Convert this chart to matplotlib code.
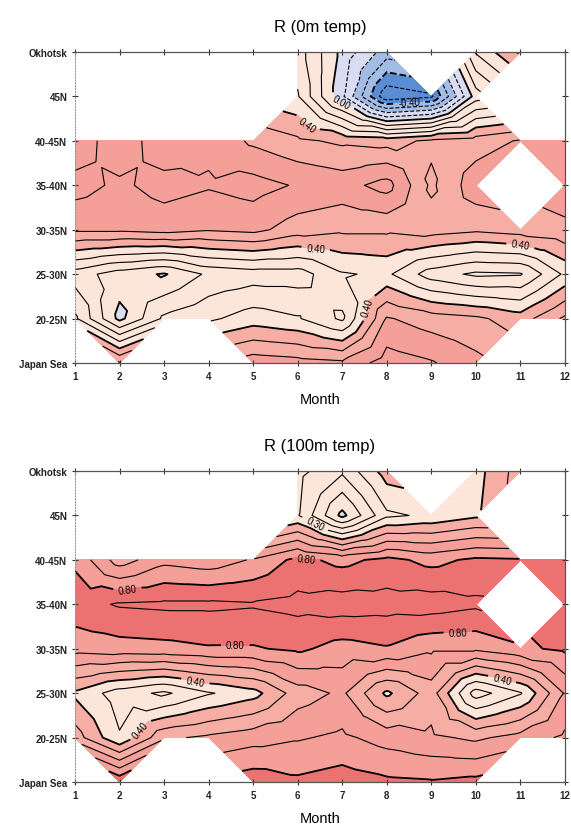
import numpy as np
import matplotlib
matplotlib.use("Agg")
import matplotlib.pyplot as plt
import matplotlib.tri as mtri

nan = np.nan
months = list(range(1, 13))
regions = ["Japan Sea", "20-25N", "25-30N", "30-35N", "35-40N", "40-45N", "45N", "Okhotsk"]

# correlation R, rows from Japan Sea (bottom) to Okhotsk (top)
r_0m = [
    [nan, 0.61, nan, nan, 0.66, 0.64, 0.62, 0.75, 0.71, 0.63, nan, nan],
    [0.32, -0.03, 0.22, 0.28, 0.35, 0.31, 0.18, 0.61, 0.55, 0.52, 0.45, 0.62],
    [0.15, 0.05, -0.01, 0.12, 0.15, 0.15, 0.29, 0.32, 0.15, 0.08, 0.09, 0.32],
    [0.62, 0.62, 0.64, 0.61, 0.63, 0.55, 0.52, 0.52, 0.55, 0.52, 0.55, 0.58],
    [0.74, 0.68, 0.74, 0.71, 0.74, 0.69, 0.66, 0.74, 0.48, 0.66, nan, 0.65],
    [0.62, 0.78, 0.62, 0.68, 0.58, 0.52, 0.48, 0.46, 0.52, 0.55, 0.61, 0.61],
    [nan, nan, nan, nan, nan, 0.31, -0.08, -0.58, -0.52, 0.05, nan, nan],
    [nan, nan, nan, nan, nan, 0.25, -0.03, -0.25, nan, 0.31, 0.52, nan],
]

r_100m = [
    [nan, 0.88, nan, nan, 0.86, 0.82, 0.85, 0.82, 0.81, 0.83, nan, nan],
    [0.55, 0.31, 0.58, 0.62, 0.66, 0.69, 0.72, 0.66, 0.62, 0.58, 0.64, 0.72],
    [0.38, 0.25, 0.18, 0.29, 0.36, 0.55, 0.62, 0.38, 0.55, 0.15, 0.29, 0.61],
    [0.74, 0.76, 0.77, 0.79, 0.79, 0.82, 0.76, 0.79, 0.72, 0.72, 0.78, 0.82],
    [0.86, 0.91, 0.92, 0.92, 0.91, 0.93, 0.95, 0.94, 0.95, 0.92, nan, 0.86],
    [0.78, 0.55, 0.67, 0.64, 0.71, 0.83, 0.77, 0.83, 0.77, 0.82, 0.81, 0.82],
    [nan, nan, nan, nan, nan, 0.31, -0.03, 0.28, 0.32, 0.38, nan, nan],
    [nan, nan, nan, nan, nan, 0.33, 0.22, 0.45, nan, 0.36, 0.55, nan],
]

# contour labels: levels that get one, and where they sit (month, row)
label_lev_0m = [-0.4, 0.0, 0.4]
labels_0m = [(7.0, 5.93), (8.5, 5.93), (6.2, 5.35), (6.4, 2.53), (11.0, 2.65), (7.6, 1.25)]
label_lev_100m = [0.3, 0.4, 0.6, 0.8]
labels_100m = [(6.4, 5.83), (6.2, 5.1), (2.2, 4.2), (4.6, 3.1), (9.6, 3.55),
               (3.7, 2.25), (2.5, 1.15), (10.6, 2.35)]

fill_levels = [-1.2, -0.4, -0.2, 0.0, 0.4, 0.6, 0.8, 1.2]
fill_colors = ["#5b8dd6", "#a3bce6", "#d8ddf2", "#fce5d9", "#f6ada3", "#f4a098", "#ec7272"]
line_levels = np.round(np.arange(-10, 11) / 10.0, 1)


def lw(levels):
    return [1.3 if int(round(l * 10)) % 4 == 0 else 0.8 for l in levels]


def build_tri(z):
    # quads with all four corners get split through their centre,
    # quads missing one corner become a single triangle
    z = np.asarray(z, float)
    ny, nx = z.shape
    xs, ys, vals = [], [], []
    idx = -np.ones((ny, nx), int)
    for j in range(ny):
        for i in range(nx):
            if not np.isnan(z[j, i]):
                idx[j, i] = len(xs)
                xs.append(months[i])
                ys.append(j)
                vals.append(z[j, i])
    tris = []
    for j in range(ny - 1):
        for i in range(nx - 1):
            corners = [(j, i), (j, i + 1), (j + 1, i + 1), (j + 1, i)]
            ok = [c for c in corners if idx[c] >= 0]
            if len(ok) == 4:
                mid = len(xs)
                xs.append(months[i] + 0.5)
                ys.append(j + 0.5)
                vals.append(np.mean([z[c] for c in corners]))
                for k in range(4):
                    tris.append([idx[corners[k]], idx[corners[(k + 1) % 4]], mid])
            elif len(ok) == 3:
                tris.append([idx[c] for c in ok])
    return mtri.Triangulation(xs, ys, tris), np.array(vals)


def panel(ax, z, title, label_lev, label_pos):
    tri, v = build_tri(z)
    ax.tricontourf(tri, v, levels=fill_levels, colors=fill_colors)
    plain = [l for l in line_levels if not np.any(np.isclose(l, label_lev))]
    ax.tricontour(tri, v, levels=plain, colors="k", linewidths=lw(plain),
                  negative_linestyles="dashed")
    cs = ax.tricontour(tri, v, levels=label_lev, colors="k", linewidths=lw(label_lev),
                       negative_linestyles="dashed")
    ax.clabel(cs, manual=label_pos, fmt="%.2f", fontsize=7, inline=True)

    ax.set_xlim(1, 12)
    ax.set_ylim(0, 7)
    ax.set_xticks(months)
    ax.set_yticks(range(len(regions)))
    ax.set_yticklabels(regions)
    ax.tick_params(labelsize=7, length=4, direction="inout", top=True, right=True,
                   colors="#333333", labelcolor="#222222")
    for t in ax.get_xticklabels() + ax.get_yticklabels():
        t.set_fontweight("bold")
    ax.set_title(title, fontsize=12, pad=15)
    ax.set_xlabel("Month", fontsize=10.5, labelpad=8)
    for s in ["top", "bottom", "right"]:
        ax.spines[s].set_color("#555555")
        ax.spines[s].set_linewidth(0.9)
    ax.spines["left"].set_linestyle(":")
    ax.spines["left"].set_color("#999999")


plt.rcParams["font.family"] = ["Liberation Sans", "DejaVu Sans"]
fig = plt.figure(figsize=(5.71, 8.28), dpi=100)
ax1 = fig.add_axes([0.1313, 0.5604, 0.858, 0.3756])
ax2 = fig.add_axes([0.1313, 0.0543, 0.858, 0.3756])
panel(ax1, r_0m, "R (0m temp)", label_lev_0m, labels_0m)
panel(ax2, r_100m, "R (100m temp)", label_lev_100m, labels_100m)
fig.savefig("out.png", dpi=100)
